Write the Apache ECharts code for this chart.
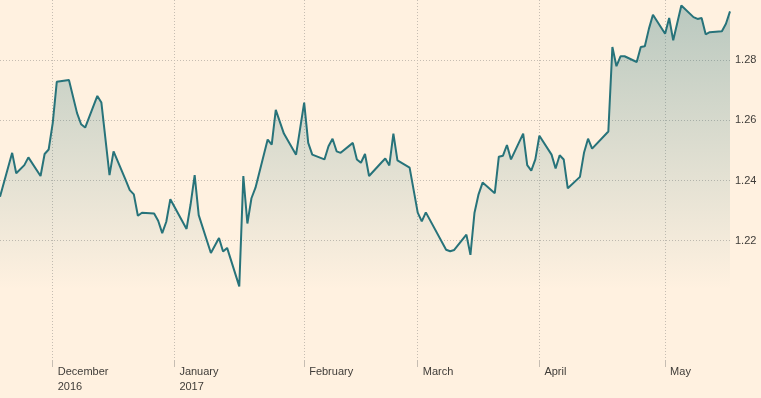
<!DOCTYPE html>
<html lang="en">
<head>
    <meta charset="utf-8">
    <title>GBP/USD</title>
    <script src="https://cdn.jsdelivr.net/npm/echarts@6/dist/echarts.min.js"></script>
    <style>
        html, body, #main {
            width: 100%;
            height: 100%;
            margin: 0;
            padding: 0;
            overflow: hidden;
            background-color: #fff1e0;
        }
    </style>
</head>
<body>
<div id="main"></div>
<script>
    // trading days shown on the chart
    var dates = [
        '2016-11-18', '2016-11-21', '2016-11-22', '2016-11-24', '2016-11-25', '2016-11-28', '2016-11-29', '2016-11-30',
        '2016-12-01', '2016-12-02', '2016-12-05', '2016-12-07', '2016-12-08', '2016-12-09', '2016-12-12', '2016-12-13',
        '2016-12-15', '2016-12-16', '2016-12-19', '2016-12-20', '2016-12-21', '2016-12-22', '2016-12-23', '2016-12-26',
        '2016-12-27', '2016-12-28', '2016-12-29', '2016-12-30',
        '2017-01-03', '2017-01-04', '2017-01-05', '2017-01-06', '2017-01-09', '2017-01-11', '2017-01-12', '2017-01-13',
        '2017-01-16', '2017-01-17', '2017-01-18', '2017-01-19', '2017-01-20', '2017-01-23', '2017-01-24', '2017-01-25',
        '2017-01-27', '2017-01-30',
        '2017-02-01', '2017-02-02', '2017-02-03', '2017-02-06', '2017-02-07', '2017-02-08', '2017-02-09', '2017-02-10',
        '2017-02-13', '2017-02-14', '2017-02-15', '2017-02-16', '2017-02-17', '2017-02-20', '2017-02-21', '2017-02-22',
        '2017-02-23', '2017-02-24', '2017-02-27',
        '2017-03-01', '2017-03-02', '2017-03-03', '2017-03-08', '2017-03-09', '2017-03-10', '2017-03-13', '2017-03-14',
        '2017-03-15', '2017-03-16', '2017-03-17', '2017-03-20', '2017-03-21', '2017-03-22', '2017-03-23', '2017-03-24',
        '2017-03-27', '2017-03-28', '2017-03-29', '2017-03-30', '2017-03-31',
        '2017-04-03', '2017-04-04', '2017-04-05', '2017-04-06', '2017-04-07', '2017-04-10', '2017-04-11', '2017-04-12',
        '2017-04-13', '2017-04-17', '2017-04-18', '2017-04-19', '2017-04-20', '2017-04-21', '2017-04-24', '2017-04-25',
        '2017-04-26', '2017-04-27', '2017-04-28',
        '2017-05-01', '2017-05-02', '2017-05-03', '2017-05-05', '2017-05-08', '2017-05-09', '2017-05-10', '2017-05-11',
        '2017-05-12', '2017-05-15', '2017-05-16', '2017-05-17'
    ];

    var rates = [
        1.2346, 1.2492, 1.2424, 1.2451, 1.2477, 1.2415, 1.2488, 1.2503,
        1.2591, 1.2728, 1.2734, 1.2624, 1.2587, 1.2576, 1.2681, 1.2659,
        1.2418, 1.2497, 1.2401, 1.2368, 1.2354, 1.2283, 1.2293, 1.2290,
        1.2266, 1.2225, 1.2263, 1.2338,
        1.2239, 1.2321, 1.2418, 1.2285, 1.2159, 1.2209, 1.2164, 1.2176,
        1.2048, 1.2415, 1.2257, 1.2341, 1.2376, 1.2536, 1.2519, 1.2635,
        1.2556, 1.2486,
        1.2659, 1.2525, 1.2486, 1.2470, 1.2514, 1.2539, 1.2497, 1.2492,
        1.2525, 1.2470, 1.2459, 1.2488, 1.2415, 1.2459, 1.2473, 1.2450,
        1.2556, 1.2467, 1.2443,
        1.2293, 1.2264, 1.2294, 1.2170, 1.2165, 1.2169, 1.2220, 1.2153,
        1.2293, 1.2354, 1.2393, 1.2358, 1.2479, 1.2482, 1.2518, 1.2470,
        1.2556, 1.2451, 1.2433, 1.2470, 1.2549,
        1.2486, 1.2440, 1.2484, 1.2470, 1.2374, 1.2412, 1.2492, 1.2539,
        1.2506, 1.2563, 1.2844, 1.2780, 1.2813, 1.2813, 1.2794, 1.2844,
        1.2846, 1.2904, 1.2951,
        1.2888, 1.2940, 1.2866, 1.2982, 1.2943, 1.2937, 1.2940, 1.2886,
        1.2893, 1.2896, 1.2921, 1.2962
    ];

    // month ticks on the date axis
    var monthTicks = ['2016-12-01', '2016-12-31', '2017-02-01', '2017-03-01', '2017-03-31', '2017-05-01'];
    var monthLabels = ['December\n2016', 'January\n2017', 'February', 'March', 'April', 'May'];

    // price ticks on the right axis
    var priceTicks = [1.22, 1.24, 1.26, 1.28];

    function toTime(s) {
        var p = s.split('-');
        return new Date(+p[0], +p[1] - 1, +p[2]).getTime();
    }

    var tickTimes = monthTicks.map(toTime);
    var seriesData = dates.map(function (d, i) {
        return [toTime(d), rates[i]];
    });

    var textColor = '#3f3c38';
    var gridColor = '#c6bdb2';
    var lineColor = '#27737a';

    var chart = echarts.init(document.getElementById('main'), null, {renderer: 'canvas'});
    chart.setOption({
        animation: false,
        backgroundColor: '#fff1e0',
        grid: {
            left: 0,
            right: 31,
            top: -2,
            bottom: 37
        },
        xAxis: {
            // timestamps on a plain value scale, ticks at month starts
            type: 'value',
            min: toTime(dates[0]),
            max: toTime(dates[dates.length - 1]),
            axisLine: {show: false},
            axisTick: {
                show: true,
                customValues: tickTimes,
                length: 6,
                lineStyle: {color: gridColor, width: 1}
            },
            axisLabel: {
                customValues: tickTimes,
                formatter: function (value) {
                    var i = tickTimes.indexOf(value);
                    return i >= 0 ? monthLabels[i] : '';
                },
                align: 'left',
                padding: [0, 0, 0, 5],
                margin: 3,
                lineHeight: 15,
                fontSize: 11,
                fontFamily: '"Liberation Sans", Arial, sans-serif',
                color: textColor
            },
            splitLine: {
                show: true,
                lineStyle: {color: gridColor, width: 1, type: [1, 2]}
            }
        },
        yAxis: {
            type: 'value',
            position: 'right',
            min: 1.18,
            max: 1.30,
            interval: 0.02,
            axisLine: {show: false},
            axisTick: {show: false, customValues: priceTicks},
            axisLabel: {
                customValues: priceTicks,
                formatter: function (v) {
                    return v.toFixed(2);
                },
                margin: 5,
                fontSize: 11,
                fontFamily: '"Liberation Sans", Arial, sans-serif',
                color: textColor
            },
            splitLine: {
                show: true,
                lineStyle: {color: gridColor, width: 1, type: [1, 2]}
            }
        },
        series: [{
            type: 'line',
            data: seriesData,
            showSymbol: false,
            lineStyle: {color: lineColor, width: 2},
            areaStyle: {
                color: new echarts.graphic.LinearGradient(0, 0, 0, 1, [
                    {offset: 0, color: 'rgba(39,115,122,0.46)'},
                    {offset: 0.8, color: 'rgba(39,115,122,0)'},
                    {offset: 1, color: 'rgba(39,115,122,0)'}
                ])
            }
        }]
    });
</script>
</body>
</html>
